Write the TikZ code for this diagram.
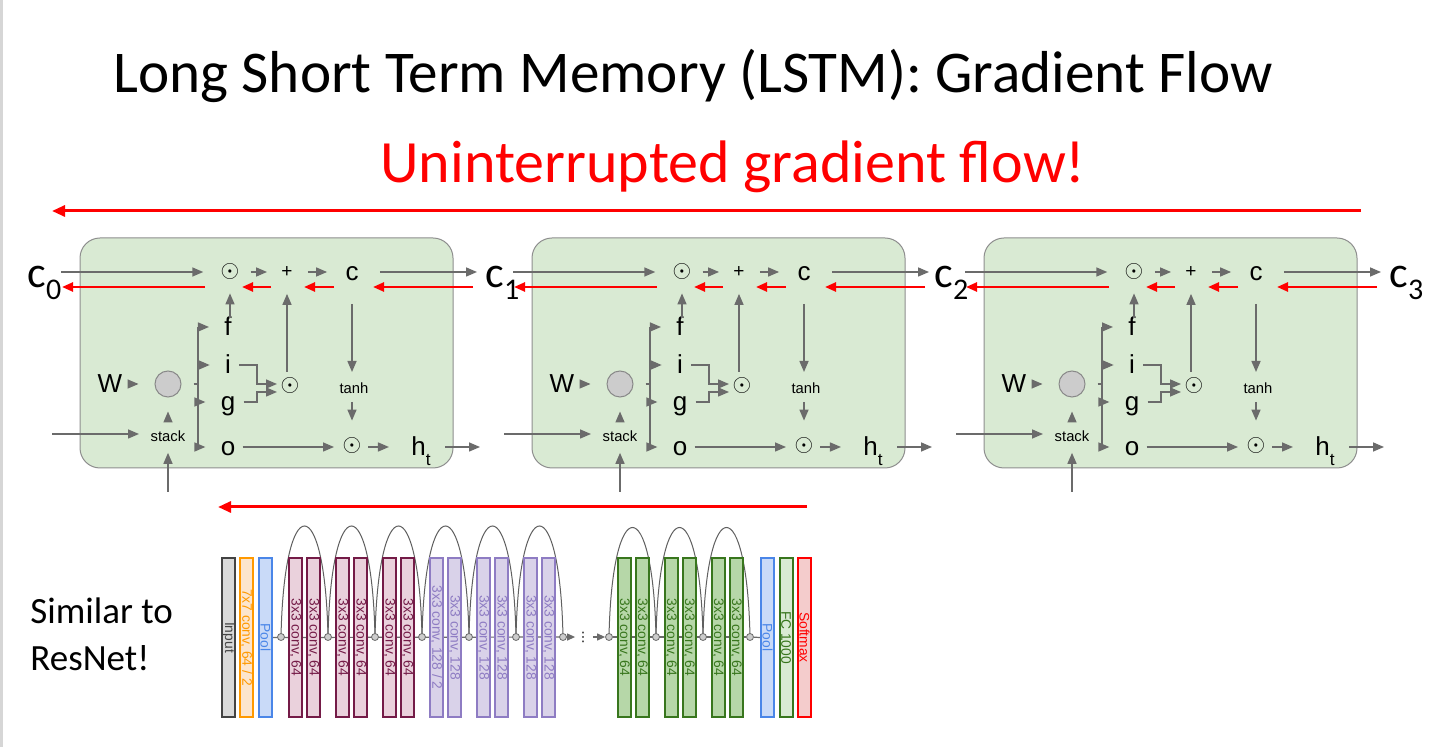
\documentclass[tikz,border=0pt]{standalone}
\usepackage{fontspec}
\setmainfont{Carlito}
\newfontfamily\arialf{Liberation Sans}
\newfontfamily\djv{DejaVu Sans}
\usetikzlibrary{arrows.meta}
\pgfdeclarelayer{back}
\pgfdeclarelayer{bg}
\pgfsetlayers{back,bg,main}
\definecolor{cellfill}{HTML}{D9EAD3}
\definecolor{cellline}{HTML}{8E8E8E}
\definecolor{agray}{HTML}{6B6B6B}
\definecolor{slidegray}{HTML}{D6D6D6}
\definecolor{circfill}{HTML}{CCCCCC}
\definecolor{inpline}{HTML}{434343}
\definecolor{inpfill}{HTML}{D9D9D9}
\definecolor{orgline}{HTML}{FF9900}
\definecolor{orgfill}{HTML}{FCE5CD}
\definecolor{blueline}{HTML}{4A86E8}
\definecolor{bluefill}{HTML}{C9DAF8}
\definecolor{marline}{HTML}{741B47}
\definecolor{marfill}{HTML}{EAD1DC}
\definecolor{purline}{HTML}{8E7CC3}
\definecolor{purfill}{HTML}{D9D2E9}
\definecolor{grnline}{HTML}{38761D}
\definecolor{grnfill}{HTML}{B6D7A8}
\definecolor{fcfill}{HTML}{D9EAD3}
\definecolor{smfill}{HTML}{F4CCCC}
\tikzset{
 garrow/.style={draw=agray, line width=0.75pt, -{Triangle[length=5.5pt,width=4.5pt]}},
 gline/.style={draw=agray, line width=0.75pt},
 rarrow/.style={draw=red, line width=1.2pt, -{Triangle[length=5.5pt,width=4.5pt]}},
 bigred/.style={draw=red, line width=1.5pt, -{Triangle[length=6.5pt,width=5.5pt]}},
 cellbox/.style={draw=cellline, line width=0.5pt, fill=cellfill, rounded corners=10pt, minimum width=186.5pt, minimum height=115pt, inner sep=0},
 lt/.style={font=\arialf\fontsize{13pt}{15pt}\selectfont, inner sep=0, text height=9.8pt, text depth=1.6pt},
 smalllt/.style={font=\arialf\fontsize{7.4pt}{9pt}\selectfont, inner sep=0},
 odotn/.style={font=\fontsize{11.5pt}{13pt}\selectfont, inner sep=0},
 plusn/.style={font=\arialf\fontsize{9.5pt}{11pt}\selectfont, inner sep=0},
 gcirc/.style={circle, draw=agray!80, line width=0.5pt, fill=circfill, minimum size=13pt, inner sep=0},
 clabel/.style={font=\fontsize{22pt}{26pt}\selectfont, inner sep=0, anchor=base west},
 rbox/.style={line width=1pt, minimum width=6.5pt, minimum height=79.5pt, inner sep=0, font=\arialf\fontsize{6.9pt}{7pt}\selectfont},
 inpb/.style={rbox, draw=inpline, fill=inpfill, text=inpline},
 orgb/.style={rbox, draw=orgline, fill=orgfill, text=orgline},
 blueb/.style={rbox, draw=blueline, fill=bluefill, text=blueline},
 marb/.style={rbox, draw=marline, fill=marfill, text=marline},
 purb/.style={rbox, draw=purline, fill=purfill, text=purline},
 grnb/.style={rbox, draw=grnline, fill=grnfill, text=grnline},
 fcb/.style={rbox, draw=grnline, fill=fcfill, text=grnline},
 smb/.style={rbox, draw=red, fill=smfill, text=red},
 dotc/.style={circle, draw=agray, fill=circfill, line width=0.4pt, minimum size=3.5pt, inner sep=0},
 resline/.style={draw=agray, line width=0.6pt},
 resarrow/.style={draw=agray, line width=0.6pt, -{Triangle[length=4pt,width=3.5pt]}},
 arcst/.style={draw=agray!90!black, line width=0.5pt},
 txt/.style={inner sep=0, anchor=base west},
}
\begin{document}
\begin{tikzpicture}[x=0.5pt,y=-0.5pt]
\useasboundingbox (0,0) rectangle (1439,747);
\begin{pgfonlayer}{back}
\fill[white] (0,0) rectangle (1439,747);
\fill[slidegray] (0,0) rectangle (3,747);
\end{pgfonlayer}

% titles
\node[txt, font=\fontsize{29.6pt}{32pt}\selectfont] (title) at (113,93) {Long Short Term Memory (LSTM): Gradient Flow};
\node[txt, font=\fontsize{30pt}{34pt}\selectfont, text=red] (subtitle) at (380,183) {Uninterrupted gradient flow!};
\coordinate (gfs) at (1361,211);
\coordinate (gfe) at (52,211);
\draw[bigred] (gfs) -- (gfe);

% LSTM cells
\foreach \i/\L in {0/80,1/532,2/984}{
 \begin{scope}[shift={(\L,0)}]
  \node[cellbox] (cell\i) at (186.5,353) {};
  \node[odotn] (oda\i) at (150,272) {$\odot$};
  \node[plusn] (pl\i) at (207,272) {+};
  \node[lt] (c\i) at (272,272) {c};
  \node[lt] (f\i) at (148,327) {f};
  \node[lt] (gi\i) at (148,365) {i};
  \node[lt] (gg\i) at (148,402) {g};
  \node[lt] (go\i) at (148,447) {o};
  \node[lt] (W\i) at (30,384) {W};
  \node[gcirc] (gc\i) at (88,384) {};
  \node[smalllt] (st\i) at (88,436) {stack};
  \node[odotn] (od2\i) at (210,386) {$\odot$};
  \node[smalllt] (th\i) at (274,388) {tanh};
  \node[odotn] (od3\i) at (272,446) {$\odot$};
  \node[lt] (h\i) at (341,447) {h\raisebox{-5pt}{\fontsize{8.6pt}{9pt}\selectfont t}};
  \coordinate (cin\i) at (-19,272);
  \coordinate (cout\i) at (397,272);
  \coordinate (bt\i) at (118,327);
  \coordinate (bb\i) at (118,447);
  \coordinate (ik\i) at (177,384);
  \coordinate (gk\i) at (177,392);
  \coordinate (xin\i) at (88,492);
  \coordinate (hin\i) at (-28,434);
  \coordinate (hout\i) at (400,447);
  \coordinate (ra\i) at (393,287);
  \coordinate (rb\i) at (293,287);
  \coordinate (rc\i) at (254,287);
  \coordinate (rd\i) at (224,287);
  \coordinate (re\i) at (191,287);
  \coordinate (rf\i) at (162,287);
  \coordinate (rg\i) at (125,287);
  \coordinate (rh\i) at (-18,287);
  % top line
  \draw[garrow, shorten >=8.5pt] (cin\i) -- (oda\i);
  \draw[garrow, shorten <=5.5pt, shorten >=7pt] (oda\i) -- (pl\i);
  \draw[garrow, shorten <=7.5pt, shorten >=9pt] (pl\i) -- (c\i);
  \draw[garrow, shorten <=10.5pt] (c\i) -- (cout\i);
  % red backward flow
  \draw[rarrow] (ra\i) -- (rb\i);
  \draw[rarrow] (rc\i) -- (rd\i);
  \draw[rarrow] (re\i) -- (rf\i);
  \draw[rarrow] (rg\i) -- (rh\i);
  % gates
  \draw[garrow, shorten <=4.5pt, shorten >=6.5pt] (oda\i |- f\i) -- (oda\i);
  \draw[garrow, shorten <=7pt, shorten >=8pt] (pl\i |- od2\i) -- (pl\i);
  \draw[garrow, shorten <=10pt, shorten >=8pt] (c\i) -- (c\i |- th\i);
  \draw[garrow, shorten <=7pt, shorten >=8.5pt] (c\i |- th\i) -- (od3\i);
  \draw[garrow, shorten <=3.5pt, shorten >=9pt] (go\i) -- (od3\i |- go\i);
  \draw[garrow, shorten <=8pt, shorten >=11pt] (od3\i |- h\i) -- (h\i);
  \draw[garrow, shorten <=7pt] (h\i) -- (hout\i);
  \draw[garrow, shorten <=7pt, shorten >=8pt] (W\i) -- (gc\i);
  \draw[garrow, shorten <=4.5pt, shorten >=7pt] (st\i) -- (gc\i);
  \draw[garrow, shorten >=5.5pt] (xin\i) -- (st\i);
  \draw[garrow, shorten >=14.5pt] (hin\i) -- (hin\i -| st\i);
  \draw[gline, shorten <=6pt] (gc\i) -- (gc\i -| bt\i);
  \draw[gline] (bt\i) -- (bb\i);
  \draw[garrow, shorten >=7.5pt] (bt\i) -- (f\i);
  \draw[garrow, shorten >=7.5pt] (bt\i |- gi\i) -- (gi\i);
  \draw[garrow, shorten >=7.5pt] (bt\i |- gg\i) -- (gg\i);
  \draw[garrow, shorten >=7.5pt] (bb\i) -- (go\i);
  \draw[garrow, shorten <=4pt, shorten >=6.5pt] (gi\i) -| (ik\i) -- (od2\i |- ik\i);
  \draw[garrow, shorten <=4pt, shorten >=6.5pt] (gg\i) -| (gk\i) -- (od2\i |- gk\i);
 \end{scope}
}

% cell state labels
\node[clabel] (C0) at (27,288) {c\raisebox{-6pt}{\fontsize{15pt}{16pt}\selectfont 0}};
\node[clabel] (C1) at (485,288) {c\raisebox{-6pt}{\fontsize{15pt}{16pt}\selectfont 1}};
\node[clabel] (C2) at (934,288) {c\raisebox{-6pt}{\fontsize{15pt}{16pt}\selectfont 2}};
\node[clabel] (C3) at (1389,288) {c\raisebox{-6pt}{\fontsize{15pt}{16pt}\selectfont 3}};

% ResNet arrow
\coordinate (rs0) at (807,507);
\coordinate (rs1) at (218,507);
\draw[bigred] (rs0) -- (rs1);

% Similar to ResNet
\node[txt, font=\fontsize{18.5pt}{23pt}\selectfont] (sim1) at (30,624) {Similar to};
\node[txt, font=\fontsize{18.5pt}{23pt}\selectfont] (sim2) at (30,670) {ResNet!};

% ResNet boxes
\node[inpb] (bin) at (228.5,637.5) {\rotatebox{-90}{Input}};
\node[orgb] (b77) at (246.5,637.5) {\rotatebox{-90}{7x7 conv, 64 / 2}};
\node[blueb] (pool1) at (265.5,637.5) {\rotatebox{-90}{Pool}};
\foreach \k/\x in {1/295.5,2/313.5,3/342.5,4/360.5,5/389.5,6/407.5}
  \node[marb] (m\k) at (\x,637.5) {\rotatebox{-90}{3x3 conv, 64}};
\node[purb] (p1) at (436.5,637.5) {\rotatebox{-90}{3x3 conv, 128 / 2}};
\foreach \k/\x in {2/454.5,3/483.5,4/501.5,5/530.5,6/548.5}
  \node[purb] (p\k) at (\x,637.5) {\rotatebox{-90}{3x3 conv, 128}};
\foreach \k/\x in {1/624,2/642,3/671,4/689,5/718,6/736}
  \node[grnb] (q\k) at (\x,637.5) {\rotatebox{-90}{3x3 conv, 64}};
\node[blueb] (pool2) at (767.5,637.5) {\rotatebox{-90}{Pool}};
\node[fcb] (fc) at (786,637.5) {\rotatebox{-90}{FC 1000}};
\node[smb] (sm) at (804.5,637.5) {\rotatebox{-90}{Softmax}};

% junction dots
\foreach \k/\x in {0/281,1/328,2/375,3/422,4/469,5/516,6/563}
  \node[dotc] (d\k) at (\x,637) {};
\foreach \k/\x in {0/609,1/656,2/703,3/750}
  \node[dotc] (g\k) at (\x,637) {};
\node[inner sep=0, font=\djv\fontsize{6.5pt}{7pt}\selectfont] (vd) at (583,637) {⋮};

\begin{pgfonlayer}{bg}
  \draw[resarrow, shorten >=0.5pt] (pool1.east) -- (vd.west);
  \draw[resarrow, shorten <=1.5pt] (vd.east) -- (g0.west);
  \draw[resline] (g0) -- (g3);
  \draw[resline] (g3) -- (pool2.west);
  \foreach \a/\b in {0/1,1/2,2/3,3/4,4/5,5/6}
    \draw[arcst] (d\a.center) .. controls +(3,-148) and +(-3,-148) .. (d\b.center);
  \foreach \a/\b in {0/1,1/2,2/3}
    \draw[arcst] (g\a.center) .. controls +(3,-146) and +(-3,-146) .. (g\b.center);
\end{pgfonlayer}
\end{tikzpicture}
\end{document}
